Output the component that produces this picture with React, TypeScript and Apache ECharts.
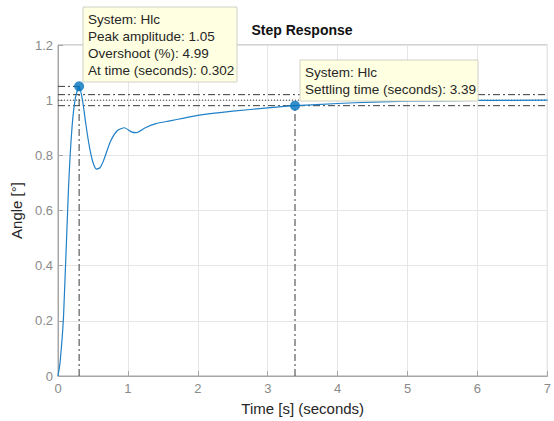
import React, { useEffect, useRef } from "react";
import * as echarts from "echarts";

const timeValues = [0, 0.03, 0.08, 0.15, 0.2, 0.25, 0.302, 0.35, 0.4, 0.45, 0.5, 0.55, 0.6, 0.65, 0.75, 0.85, 0.95, 1.05, 1.12, 1.25, 1.4, 1.6, 1.8, 2, 2.5, 3, 3.39, 4, 4.5, 5, 6, 7];
const angleValues = [0, 0.05, 0.22, 0.68, 0.9, 1.01, 1.05, 1.0, 0.91, 0.83, 0.775, 0.75, 0.755, 0.78, 0.85, 0.89, 0.9, 0.885, 0.882, 0.9, 0.915, 0.925, 0.935, 0.945, 0.96, 0.972, 0.98, 0.988, 0.993, 0.996, 0.999, 1.0];
const peakTime = 0.302;
const peakAmplitude = 1.05;
const overshoot = 4.99;
const settlingTime = 3.39;
const settlingValue = 0.98;
const steadyState = 1.0;
const bandUpper = 1.02;
const bandLower = 0.98;
const xTicks = [0, 7, 1];
const yTicks = [0, 1.2, 0.2];

const FONT = "'Liberation Sans', Arial, sans-serif";
const DASHDOT = [7, 3, 2, 3];

export default function App() {
  const ref = useRef<HTMLDivElement>(null);
  useEffect(() => {
    if (!ref.current) return;
    const chart = echarts.init(ref.current, null, { renderer: "svg" });
    const curve = timeValues.map((t, i) => [t, angleValues[i]]);
    const refLine = (data: number[][], type: any) => ({
      type: "line",
      data,
      symbol: "none",
      silent: true,
      lineStyle: { color: "#3a3a3a", width: 1, type },
      z: 3,
    });
    const tipFont = `13.5px ${FONT}`;
    chart.setOption({
      animation: false,
      textStyle: { fontFamily: FONT },
      grid: { left: 58, right: 6, top: 45, bottom: 43, show: true, borderColor: "#a6a6a6", borderWidth: 1 },
      xAxis: {
        type: "value",
        min: xTicks[0],
        max: xTicks[1],
        interval: xTicks[2],
        name: "Time [s] (seconds)",
        nameLocation: "middle",
        nameGap: 25,
        nameTextStyle: { color: "#262626", fontSize: 15, fontFamily: FONT },
        axisLine: { show: true, lineStyle: { color: "#a6a6a6" } },
        axisTick: { show: true, inside: true, length: 5, lineStyle: { color: "#a6a6a6" } },
        axisLabel: { color: "#8a8a8a", fontSize: 13, fontFamily: FONT, margin: 6 },
        splitLine: { show: true, lineStyle: { color: "#e6e6e6" } },
      },
      yAxis: {
        type: "value",
        min: yTicks[0],
        max: yTicks[1],
        interval: yTicks[2],
        name: "Angle [°]",
        nameLocation: "middle",
        nameGap: 31,
        nameTextStyle: { color: "#262626", fontSize: 15, fontFamily: FONT },
        axisLine: { show: true, lineStyle: { color: "#a6a6a6" } },
        axisTick: { show: true, inside: true, length: 5, lineStyle: { color: "#a6a6a6" } },
        axisLabel: { color: "#8a8a8a", fontSize: 13, fontFamily: FONT, margin: 5 },
        splitLine: { show: true, lineStyle: { color: "#e6e6e6" } },
      },
      series: [
        refLine([[0, peakAmplitude], [peakTime, peakAmplitude]], DASHDOT),
        refLine([[peakTime, 0], [peakTime, peakAmplitude]], DASHDOT),
        refLine([[xTicks[0], bandUpper], [xTicks[1], bandUpper]], DASHDOT),
        refLine([[xTicks[0], bandLower], [xTicks[1], bandLower]], DASHDOT),
        refLine([[xTicks[0], steadyState], [xTicks[1], steadyState]], [1, 2]),
        refLine([[settlingTime, 0], [settlingTime, settlingValue]], DASHDOT),
        {
          type: "line",
          data: curve,
          symbol: "none",
          smooth: 0.2,
          lineStyle: { color: "#1f80c8", width: 1.2 },
          z: 4,
        },
        {
          type: "scatter",
          data: [[peakTime, peakAmplitude], [settlingTime, settlingValue]],
          symbolSize: 10,
          itemStyle: { color: "#0072BD" },
          z: 5,
        },
      ],
      graphic: [
        {
          type: "text",
          x: 302,
          y: 30,
          z: 100,
          style: { text: "Step Response", font: `bold 14px ${FONT}`, fill: "#111", textAlign: "center", textVerticalAlign: "middle" },
        },
        {
          type: "rect",
          z: 100,
          shape: { x: 83, y: 7, width: 154, height: 75 },
          style: { fill: "#ffffe1", stroke: "#d0d0c8", lineWidth: 1 },
        },
        {
          type: "text",
          z: 101,
          x: 88,
          y: 11,
          style: {
            text: `System: Hlc\nPeak amplitude: ${peakAmplitude.toFixed(2)}\nOvershoot (%): ${overshoot}\nAt time (seconds): ${peakTime}`,
            font: tipFont,
            lineHeight: 17,
            fill: "#262626",
          },
        },
        {
          type: "rect",
          z: 100,
          shape: { x: 300, y: 60, width: 178, height: 41 },
          style: { fill: "#ffffe1", stroke: "#d0d0c8", lineWidth: 1 },
        },
        {
          type: "text",
          z: 101,
          x: 305,
          y: 64,
          style: {
            text: `System: Hlc\nSettling time (seconds): ${settlingTime}`,
            font: tipFont,
            lineHeight: 17,
            fill: "#262626",
          },
        },
      ],
    });
    return () => chart.dispose();
  }, []);
  return <div ref={ref} style={{ width: 554, height: 421, position: "absolute", left: 0, top: 0 }} />;
}
